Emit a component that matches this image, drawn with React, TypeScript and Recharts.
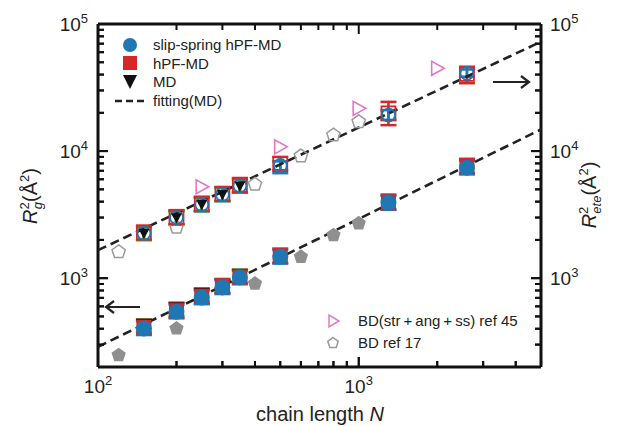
import React from 'react';
import { ComposedChart, Scatter, XAxis, YAxis, ErrorBar } from 'recharts';

const FONT = '"Liberation Sans", Arial, Helvetica, sans-serif';
const BLUE = '#1f77b4';
const RED = '#d62728';
const GREEN = '#2ca02c';
const PINK = '#e377c2';
const GREY = '#9a9a9a';

// chain lengths N
const nSim = [150, 200, 250, 300, 350, 500, 1300, 2600];
const nMD = [150, 200, 250, 300, 350];
const nBD45 = [250, 500, 1000, 2000];
const nBD17 = [120, 200, 400, 600, 800, 1000];

// R_ete^2 (upper set, right axis)
const ssRete = [2260, 3000, 3800, 4560, 5330, 7700, 19200, 40900];
const ssReteErr = [[260, 300], [350, 400], [440, 510], [520, 620], [610, 720], [1000, 600], [1600, 1800], [2450, 3000]];
const hpfRete = [2280, 3020, 3850, 4600, 5400, 7900, 19800, 40500];
const hpfReteErr = [[280, 310], [360, 410], [460, 520], [540, 620], [640, 740], [830, 1100], [3800, 4600], [6300, 5600]];
const mdRete = [2250, 2980, 3780, 4540, 5300];
const mdReteErr = [[250, 270], [330, 370], [420, 480], [500, 590], [600, 700]];
const bd45Rete = [5240, 10800, 21700, 44800];
const bd17Rete = [1610, 2510, 5470, 9140, 13360, 17000];

// R_g^2 (lower set, left axis)
const ssRg = [402, 543, 704, 845, 1013, 1472, 3920, 7400];
const ssRgErr = [[45, 55], [60, 75], [80, 95], [95, 115], [115, 135], [170, 200], [450, 520], [850, 1000]];
const hpfRg = [410, 555, 720, 860, 1020, 1500, 3950, 7600];
const hpfRgErr = [[50, 60], [65, 80], [85, 100], [100, 120], [120, 140], [180, 210], [500, 600], [900, 1100]];
const mdRg = [420, 568, 738, 872, 1035];
const mdRgErr = [[45, 55], [60, 75], [80, 95], [95, 115], [115, 135]];
const bd17Rg = [248, 402, 907, 1472, 2180, 2700];

// fitting(MD) end points
const fitNs = [100, 5000];
const fitRete = [1660, 72600];
const fitRg = [288, 14800];

const xDomain = [100, 5000];
const yDomain = [200, 100000];
const xTicks = [100, 200, 300, 400, 500, 600, 700, 800, 900, 1000, 2000, 3000, 4000, 5000];
const yTicks = [
  200, 300, 400, 500, 600, 700, 800, 900, 1000,
  2000, 3000, 4000, 5000, 6000, 7000, 8000, 9000, 10000,
  20000, 30000, 40000, 50000, 60000, 70000, 80000, 90000, 100000,
];
const majorTicks = [100, 1000, 10000, 100000];

const pts = (ns: number[], vs: number[], errs?: number[][]) =>
  ns.map((n, i) => ({ n, v: vs[i], err: errs ? errs[i] : undefined }));

const isMajor = (v: number) => majorTicks.includes(v);
const tickLen = (v: number) => (isMajor(v) ? 10 : 6);

// tick mark positions on the frame (drawn inward as scatter marks)
const bottomMarks = xTicks.map((n) => ({ n, v: yDomain[0], t: n }));
const topMarks = xTicks.map((n) => ({ n, v: yDomain[1], t: n }));
const leftMarks = yTicks.map((v) => ({ n: xDomain[0], v, t: v }));
const rightMarks = yTicks.map((v) => ({ n: xDomain[1], v, t: v }));

const Mark = ({ cx, cy, payload, dir }: any) => {
  const L = tickLen(payload && payload.t);
  if (dir === 'up') return <rect x={cx - 1} y={cy - L} width={2} height={L} fill="#111" />;
  if (dir === 'down') return <rect x={cx - 1} y={cy} width={2} height={L} fill="#111" />;
  if (dir === 'right') return <rect x={cx} y={cy - 1} width={L} height={2} fill="#111" />;
  return <rect x={cx - L} y={cy - 1} width={L} height={2} fill="#111" />;
};

const Pow = ({ v, x, y, anchor }: any) => (
  <text x={x} y={y} textAnchor={anchor} fontFamily={FONT} fontSize={19} fill="#222">
    10
    <tspan dy={-8} fontSize={13}>
      {Math.round(Math.log10(v))}
    </tspan>
  </text>
);

// axis ticks: inward stub plus a label on decades
const BottomTick = (p: any) => {
  const x = Number(p.x), y = Number(p.y), v = p.payload.value, L = tickLen(v);
  return (
    <g>
      <rect x={x - 1} y={y - L} width={2} height={L} fill="#111" />
      {isMajor(v) && <Pow v={v} x={x} y={y + 26} anchor="middle" />}
    </g>
  );
};
const LeftTick = (p: any) => {
  const x = Number(p.x), y = Number(p.y), v = p.payload.value, L = tickLen(v);
  return (
    <g>
      <rect x={x} y={y - 1} width={L} height={2} fill="#111" />
      {isMajor(v) && <Pow v={v} x={x - 10} y={y + 7} anchor="end" />}
    </g>
  );
};
const RightTick = (p: any) => {
  const x = Number(p.x), y = Number(p.y), v = p.payload.value, L = tickLen(v);
  return (
    <g>
      <rect x={x - L} y={y - 1} width={L} height={2} fill="#111" />
      {isMajor(v) && <Pow v={v} x={x + 9} y={y + 7} anchor="start" />}
    </g>
  );
};

// marker shapes
const Dot = ({ cx, cy, fill, r = 8, sw = 0 }: any) => (
  <circle cx={cx} cy={cy} r={r} fill={sw ? 'none' : fill} stroke={sw ? fill : 'none'} strokeWidth={sw} />
);
const Sq = ({ cx, cy, fill, s = 15, sw = 0 }: any) => (
  <rect x={cx - s / 2} y={cy - s / 2} width={s} height={s} fill={sw ? 'none' : fill} stroke={sw ? fill : 'none'} strokeWidth={sw} />
);
const TriDown = ({ cx, cy, h = 7 }: any) => (
  <path d={`M${cx - h},${cy - h * 0.85}L${cx + h},${cy - h * 0.85}L${cx},${cy + h}Z`} fill="#111" />
);
const TriRight = ({ cx, cy, h = 7 }: any) => (
  <path d={`M${cx - h * 0.8},${cy - h}L${cx - h * 0.8},${cy + h}L${cx + h},${cy}Z`} fill="none" stroke={PINK} strokeWidth={1.6} />
);
const Penta = ({ cx, cy, r = 7.5, filled }: any) => {
  const d = [0, 1, 2, 3, 4]
    .map((k) => {
      const a = ((-90 + k * 72) * Math.PI) / 180;
      return `${k ? 'L' : 'M'}${cx + r * Math.cos(a)},${cy + r * Math.sin(a)}`;
    })
    .join('') + 'Z';
  return filled ? <path d={d} fill="#8f8f8f" /> : <path d={d} fill="none" stroke={GREY} strokeWidth={1.5} />;
};
const Nothing = () => <g />;

const eb = (color: string) => (
  <ErrorBar dataKey="err" direction="y" width={8} stroke={color} strokeWidth={2.5} isAnimationActive={false} />
);

const fitLine = { stroke: '#222', strokeWidth: 2.6, strokeDasharray: '9 5' };
const frame = { stroke: '#111', strokeWidth: 3 };

export default function App() {
  return (
    <div style={{ position: 'absolute', left: 0, top: 0, width: 619, height: 426, background: '#fff' }}>
      <svg width={619} height={426} style={{ position: 'absolute', left: 0, top: 0 }}>
        {/* legend, upper left */}
        <circle cx={130} cy={45} r={7} fill={BLUE} />
        <rect x={123} y={56} width={14} height={14} fill={RED} />
        <path d="M123,75L137,75L130,89Z" fill="#111" />
        <line x1={115} y1={101} x2={146} y2={101} stroke="#222" strokeWidth={2.6} strokeDasharray="7 4" />
        <g fontFamily={FONT} fontSize={15} fill="#222">
          <text x={153} y={50}>slip-spring hPF-MD</text>
          <text x={153} y={68.5}>hPF-MD</text>
          <text x={153} y={87}>MD</text>
          <text x={153} y={106}>fitting(MD)</text>
        </g>

        {/* legend, lower right */}
        <path d="M329,315L329,327L339,321Z" fill="none" stroke={PINK} strokeWidth={1.5} />
        <Penta cx={333} cy={343} r={5.5} />
        <g fontFamily={FONT} fontSize={15} fill="#222">
          <text x={358} y={326}>BD(str{'\u2009'}+{'\u2009'}ang{'\u2009'}+{'\u2009'}ss) ref 45</text>
          <text x={358} y={348}>BD ref 17</text>
        </g>

        {/* axis arrows */}
        <g stroke="#222" strokeWidth={2.2} fill="none">
          <line x1={106} y1={307} x2={140} y2={307} />
          <path d="M114,301L106,307L114,313" />
          <line x1={493} y1={82} x2={529} y2={82} />
          <path d="M521,76L529,82L521,88" />
        </g>

        {/* axis titles */}
        <text x={320} y={421} textAnchor="middle" fontFamily={FONT} fontSize={20} fill="#222">
          chain length <tspan fontStyle="italic">N</tspan>
        </text>
        <text x={37} y={196} transform="rotate(-90 37 196)" textAnchor="middle" fontFamily={FONT} fontSize={20} fill="#222">
          <tspan fontStyle="italic">R</tspan>
          <tspan dy={-8} fontSize={13}>2</tspan>
          <tspan dx={-7} dy={13} fontSize={13} fontStyle="italic">g</tspan>
          <tspan dy={-5}>(Å</tspan>
          <tspan dy={-8} fontSize={13}>2</tspan>
          <tspan dy={8}>)</tspan>
        </text>
        <text x={596} y={195} transform="rotate(-90 596 195)" textAnchor="middle" fontFamily={FONT} fontSize={20} fill="#222">
          <tspan fontStyle="italic">R</tspan>
          <tspan dy={-8} fontSize={13}>2</tspan>
          <tspan dx={-7} dy={13} fontSize={13} fontStyle="italic">ete</tspan>
          <tspan dy={-5}>(Å</tspan>
          <tspan dy={-8} fontSize={13}>2</tspan>
          <tspan dy={8}>)</tspan>
        </text>
      </svg>

      <ComposedChart width={619} height={426} margin={{ top: 23, right: 0, bottom: 0, left: 0 }}>
        <XAxis
          dataKey="n"
          type="number"
          scale="log"
          domain={xDomain}
          allowDataOverflow
          ticks={xTicks}
          interval={0}
          height={59}
          tickSize={0}
          tickMargin={0}
          tickLine={false}
          tick={BottomTick}
          axisLine={frame}
        />
        <XAxis
          xAxisId="top"
          orientation="top"
          type="number"
          scale="log"
          domain={xDomain}
          allowDataOverflow
          ticks={xTicks}
          interval={0}
          height={1}
          tickLine={false}
          tick={false}
          axisLine={frame}
        />
        <YAxis
          dataKey="v"
          type="number"
          scale="log"
          domain={yDomain}
          allowDataOverflow
          ticks={yTicks}
          interval={0}
          width={98}
          tickSize={0}
          tickMargin={0}
          tickLine={false}
          tick={LeftTick}
          axisLine={frame}
        />
        <YAxis
          yAxisId="right"
          orientation="right"
          type="number"
          scale="log"
          domain={yDomain}
          allowDataOverflow
          ticks={yTicks}
          interval={0}
          width={78}
          tickSize={0}
          tickMargin={0}
          tickLine={false}
          tick={RightTick}
          axisLine={frame}
        />

        {/* inward tick marks */}
        <Scatter data={bottomMarks} shape={(p: any) => <Mark {...p} dir="up" />} isAnimationActive={false} />
        <Scatter data={topMarks} shape={(p: any) => <Mark {...p} dir="down" />} isAnimationActive={false} />
        <Scatter data={leftMarks} shape={(p: any) => <Mark {...p} dir="right" />} isAnimationActive={false} />
        <Scatter data={rightMarks} shape={(p: any) => <Mark {...p} dir="left" />} isAnimationActive={false} />

        {/* fitting(MD) */}
        <Scatter data={pts(fitNs, fitRg)} line={fitLine} shape={Nothing} isAnimationActive={false} />
        <Scatter data={pts(fitNs, fitRete)} line={fitLine} shape={Nothing} isAnimationActive={false} />

        {/* BD references */}
        <Scatter data={pts(nBD17, bd17Rg)} shape={(p: any) => <Penta {...p} filled />} isAnimationActive={false} />
        <Scatter data={pts(nBD17, bd17Rete)} shape={(p: any) => <Penta {...p} r={7} />} isAnimationActive={false} />
        <Scatter data={pts(nBD45, bd45Rete)} shape={(p: any) => <TriRight {...p} />} isAnimationActive={false} />

        {/* R_g^2 */}
        <Scatter data={pts(nMD, mdRg, mdRgErr)} shape={(p: any) => <TriDown {...p} h={8} />} isAnimationActive={false}>
          {eb(GREEN)}
        </Scatter>
        <Scatter data={pts(nSim, hpfRg, hpfRgErr)} shape={(p: any) => <Sq {...p} fill={RED} />} isAnimationActive={false}>
          {eb(RED)}
        </Scatter>
        <Scatter data={pts(nSim, ssRg, ssRgErr)} shape={(p: any) => <Dot {...p} fill={BLUE} />} isAnimationActive={false}>
          {eb(BLUE)}
        </Scatter>

        {/* R_ete^2 */}
        <Scatter data={pts(nSim, hpfRete, hpfReteErr)} shape={(p: any) => <Sq {...p} fill={RED} s={14} sw={1.8} />} isAnimationActive={false}>
          {eb(RED)}
        </Scatter>
        <Scatter data={pts(nSim, ssRete, ssReteErr)} shape={(p: any) => <Dot {...p} fill={BLUE} r={6.5} sw={1.8} />} isAnimationActive={false}>
          {eb(BLUE)}
        </Scatter>
        <Scatter data={pts(nMD, mdRete, mdReteErr)} shape={(p: any) => <TriDown {...p} h={5.5} />} isAnimationActive={false}>
          {eb(GREEN)}
        </Scatter>
      </ComposedChart>
    </div>
  );
}
